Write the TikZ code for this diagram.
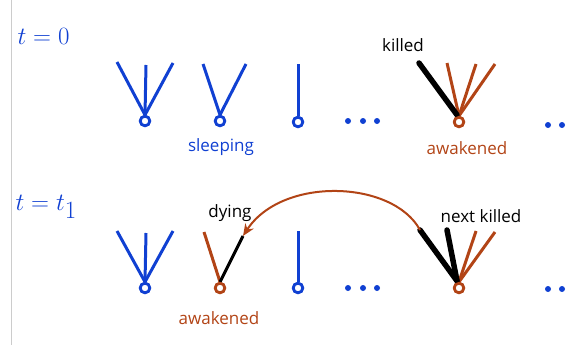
\documentclass[tikz,border=0pt]{standalone}
\usepackage{fontspec}
\setsansfont{Open Sans}
\usetikzlibrary{arrows.meta,calc}
\definecolor{sleepblue}{RGB}{16,64,210}
\definecolor{wakebrown}{RGB}{178,68,22}
\begin{document}
\begin{tikzpicture}
[x=1pt,y=-1pt,
  rootdecorate/.style={shape=circle,inner sep=0pt,minimum size=9.5pt,draw,line width=2.7pt,fill=white},%
  branchdecorate/.style={line width=3pt},%
  killdecorate/.style={line width=5.5pt,line cap=round,black},%
  labeldecorate/.style={font=\sffamily\fontsize{17}{20}\selectfont},%
  timedecorate/.style={sleepblue,font=\fontsize{34}{40}\selectfont,anchor=west},%
  dotdecorate/.style={shape=circle,inner sep=0pt,minimum size=6pt,fill=sleepblue}]
\useasboundingbox (0,0) rectangle (572,350);
\draw[black!20,line width=1.5pt] (11.5,0) -- (11.5,345);
%% time labels
\node (time0) at (14,36) [timedecorate] {$t=0$};
\node (time1) at (12,207) [timedecorate] {$t=t_1$};
%% roots, one row per time
\foreach \nodename/\x/\y/\col in {a0/145/121/sleepblue, b0/220/121/sleepblue,
  c0/298/122/sleepblue, d0/459/122/wakebrown,
  a1/145/288/sleepblue, b1/220/288/wakebrown, c1/298/288/sleepblue,
  d1/459/288/wakebrown}
{
  \node (\nodename) at (\x,\y) [rootdecorate,draw=\col] {};
}
%% branch tips
\foreach \tipname/\x/\y in {a0l/117/62, a0m/146/65, a0r/173/63, b0l/203/64,
  b0r/246/64, c0t/298/64, d0k/419/63, d0l/447/63, d0m/476/64, d0r/495/64,
  a1l/117/231, a1m/146/233, a1r/173/231, b1l/204/232, b1r/243/236,
  c1t/298/231, d1k/420/230, d1j/447/230, d1m/476/231, d1r/495/232}
{
  \coordinate (\tipname) at (\x,\y);
}
%% sleeping branches
\path
\foreach \startnode/\endnode in {a0/a0l, a0/a0m, a0/a0r, b0/b0l, b0/b0r,
  c0/c0t, a1/a1l, a1/a1m, a1/a1r, c1/c1t}
{
  (\startnode.north) edge[branchdecorate,sleepblue] (\endnode)
};
%% awakened branches
\path
\foreach \startnode/\endnode in {d0/d0l, d0/d0m, d0/d0r, b1/b1l, d1/d1m, d1/d1r}
{
  (\startnode.north) edge[branchdecorate,wakebrown] (\endnode)
};
\draw[branchdecorate,black] (b1.north) -- (b1r);
\foreach \startnode/\endnode in {d0/d0k, d1/d1k, d1/d1j}
{
  \draw[killdecorate] (\endnode) -- ($(\startnode.north)+(-2,-1)$);
}
%% roots drawn on top again
\foreach \nodename/\col in {a0/sleepblue, b0/sleepblue, c0/sleepblue,
  d0/wakebrown, a1/sleepblue, b1/wakebrown, c1/sleepblue, d1/wakebrown}
{
  \node at (\nodename) [rootdecorate,draw=\col] {};
}
%% dots
\foreach \dotname/\x/\y in {p1/348/121, p2/363/121, p3/377/121, q1/548/125,
  q2/562/125, r1/348/288, r2/363/288, r3/377/288, s1/548/289, s2/562/289}
{
  \node (\dotname) at (\x,\y) [dotdecorate] {};
}
%% labels
\node (sleeping) at (221,147) [labeldecorate,sleepblue] {sleeping};
\node (awake0) at (467,148) [labeldecorate,wakebrown] {awakened};
\node (killed) at (403,45) [labeldecorate,black] {killed};
\node (awake1) at (219,318) [labeldecorate,wakebrown] {awakened};
\node (dying) at (230,213) [labeldecorate,black] {dying};
\node (nextkilled) at (481,216) [labeldecorate,black] {next killed};
%% move of the kill
\draw[wakebrown,line width=2pt,-{Stealth[length=12pt,width=10pt]}]
  (d1k) .. controls (393,180) and (282,176) .. (b1r);
\end{tikzpicture}
\end{document}
